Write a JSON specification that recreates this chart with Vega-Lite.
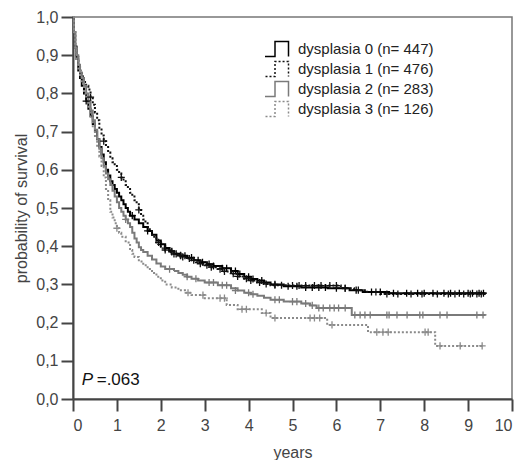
{
  "$schema": "https://vega.github.io/schema/vega-lite/v6.json",
  "width": 439,
  "height": 382,
  "autosize": "none",
  "padding": {"left": 73, "top": 17, "right": 18, "bottom": 61},
  "config": {
    "font": "Liberation Sans",
    "view": {"stroke": "#777777", "strokeWidth": 1.5},
    "axis": {
      "domainColor": "#444444", "domainWidth": 2, "tickColor": "#444444", "tickWidth": 2,
      "tickSize": 12, "labelColor": "#444444", "labelFontSize": 16, "titleFontSize": 16,
      "titleFontWeight": "normal", "titleColor": "#444444", "grid": false
    }
  },
  "datasets": {
    "curves": [
      {"g":"dysplasia 0 (n= 447)","t":0,"s":1.0},{"g":"dysplasia 0 (n= 447)","t":0.02,"s":0.96},{"g":"dysplasia 0 (n= 447)","t":0.05,"s":0.92},{"g":"dysplasia 0 (n= 447)","t":0.08,"s":0.89},{"g":"dysplasia 0 (n= 447)","t":0.12,"s":0.86},{"g":"dysplasia 0 (n= 447)","t":0.16,"s":0.84},{"g":"dysplasia 0 (n= 447)","t":0.2,"s":0.82},{"g":"dysplasia 0 (n= 447)","t":0.25,"s":0.8},{"g":"dysplasia 0 (n= 447)","t":0.3,"s":0.78},{"g":"dysplasia 0 (n= 447)","t":0.35,"s":0.76},{"g":"dysplasia 0 (n= 447)","t":0.4,"s":0.74},{"g":"dysplasia 0 (n= 447)","t":0.45,"s":0.72},{"g":"dysplasia 0 (n= 447)","t":0.5,"s":0.7},{"g":"dysplasia 0 (n= 447)","t":0.55,"s":0.68},{"g":"dysplasia 0 (n= 447)","t":0.6,"s":0.66},{"g":"dysplasia 0 (n= 447)","t":0.65,"s":0.64},{"g":"dysplasia 0 (n= 447)","t":0.7,"s":0.62},{"g":"dysplasia 0 (n= 447)","t":0.75,"s":0.6},{"g":"dysplasia 0 (n= 447)","t":0.8,"s":0.585},{"g":"dysplasia 0 (n= 447)","t":0.85,"s":0.57},{"g":"dysplasia 0 (n= 447)","t":0.9,"s":0.56},{"g":"dysplasia 0 (n= 447)","t":0.95,"s":0.55},{"g":"dysplasia 0 (n= 447)","t":1.0,"s":0.54},{"g":"dysplasia 0 (n= 447)","t":1.05,"s":0.53},{"g":"dysplasia 0 (n= 447)","t":1.1,"s":0.52},{"g":"dysplasia 0 (n= 447)","t":1.15,"s":0.51},{"g":"dysplasia 0 (n= 447)","t":1.2,"s":0.5},{"g":"dysplasia 0 (n= 447)","t":1.25,"s":0.49},{"g":"dysplasia 0 (n= 447)","t":1.3,"s":0.48},{"g":"dysplasia 0 (n= 447)","t":1.4,"s":0.47},{"g":"dysplasia 0 (n= 447)","t":1.5,"s":0.46},{"g":"dysplasia 0 (n= 447)","t":1.6,"s":0.45},{"g":"dysplasia 0 (n= 447)","t":1.7,"s":0.44},{"g":"dysplasia 0 (n= 447)","t":1.8,"s":0.43},{"g":"dysplasia 0 (n= 447)","t":1.9,"s":0.415},{"g":"dysplasia 0 (n= 447)","t":2.0,"s":0.405},{"g":"dysplasia 0 (n= 447)","t":2.1,"s":0.395},{"g":"dysplasia 0 (n= 447)","t":2.2,"s":0.387},{"g":"dysplasia 0 (n= 447)","t":2.3,"s":0.38},{"g":"dysplasia 0 (n= 447)","t":2.45,"s":0.375},{"g":"dysplasia 0 (n= 447)","t":2.6,"s":0.37},{"g":"dysplasia 0 (n= 447)","t":2.75,"s":0.363},{"g":"dysplasia 0 (n= 447)","t":2.9,"s":0.358},{"g":"dysplasia 0 (n= 447)","t":3.05,"s":0.353},{"g":"dysplasia 0 (n= 447)","t":3.2,"s":0.348},{"g":"dysplasia 0 (n= 447)","t":3.4,"s":0.342},{"g":"dysplasia 0 (n= 447)","t":3.6,"s":0.335},{"g":"dysplasia 0 (n= 447)","t":3.75,"s":0.327},{"g":"dysplasia 0 (n= 447)","t":3.9,"s":0.32},{"g":"dysplasia 0 (n= 447)","t":4.05,"s":0.314},{"g":"dysplasia 0 (n= 447)","t":4.2,"s":0.31},{"g":"dysplasia 0 (n= 447)","t":4.35,"s":0.305},{"g":"dysplasia 0 (n= 447)","t":4.5,"s":0.3},{"g":"dysplasia 0 (n= 447)","t":4.8,"s":0.295},{"g":"dysplasia 0 (n= 447)","t":5.2,"s":0.292},{"g":"dysplasia 0 (n= 447)","t":5.8,"s":0.29},{"g":"dysplasia 0 (n= 447)","t":6.3,"s":0.285},{"g":"dysplasia 0 (n= 447)","t":6.6,"s":0.28},{"g":"dysplasia 0 (n= 447)","t":7.2,"s":0.277},{"g":"dysplasia 0 (n= 447)","t":9.4,"s":0.277},
      {"g":"dysplasia 1 (n= 476)","t":0,"s":1.0},{"g":"dysplasia 1 (n= 476)","t":0.02,"s":0.96},{"g":"dysplasia 1 (n= 476)","t":0.05,"s":0.93},{"g":"dysplasia 1 (n= 476)","t":0.08,"s":0.9},{"g":"dysplasia 1 (n= 476)","t":0.12,"s":0.875},{"g":"dysplasia 1 (n= 476)","t":0.16,"s":0.86},{"g":"dysplasia 1 (n= 476)","t":0.2,"s":0.845},{"g":"dysplasia 1 (n= 476)","t":0.25,"s":0.83},{"g":"dysplasia 1 (n= 476)","t":0.3,"s":0.82},{"g":"dysplasia 1 (n= 476)","t":0.35,"s":0.81},{"g":"dysplasia 1 (n= 476)","t":0.4,"s":0.79},{"g":"dysplasia 1 (n= 476)","t":0.45,"s":0.77},{"g":"dysplasia 1 (n= 476)","t":0.5,"s":0.75},{"g":"dysplasia 1 (n= 476)","t":0.55,"s":0.73},{"g":"dysplasia 1 (n= 476)","t":0.6,"s":0.71},{"g":"dysplasia 1 (n= 476)","t":0.65,"s":0.69},{"g":"dysplasia 1 (n= 476)","t":0.7,"s":0.675},{"g":"dysplasia 1 (n= 476)","t":0.75,"s":0.66},{"g":"dysplasia 1 (n= 476)","t":0.8,"s":0.645},{"g":"dysplasia 1 (n= 476)","t":0.85,"s":0.63},{"g":"dysplasia 1 (n= 476)","t":0.9,"s":0.62},{"g":"dysplasia 1 (n= 476)","t":0.95,"s":0.61},{"g":"dysplasia 1 (n= 476)","t":1.0,"s":0.6},{"g":"dysplasia 1 (n= 476)","t":1.05,"s":0.59},{"g":"dysplasia 1 (n= 476)","t":1.1,"s":0.58},{"g":"dysplasia 1 (n= 476)","t":1.15,"s":0.57},{"g":"dysplasia 1 (n= 476)","t":1.2,"s":0.56},{"g":"dysplasia 1 (n= 476)","t":1.25,"s":0.55},{"g":"dysplasia 1 (n= 476)","t":1.3,"s":0.54},{"g":"dysplasia 1 (n= 476)","t":1.35,"s":0.53},{"g":"dysplasia 1 (n= 476)","t":1.4,"s":0.52},{"g":"dysplasia 1 (n= 476)","t":1.45,"s":0.51},{"g":"dysplasia 1 (n= 476)","t":1.5,"s":0.495},{"g":"dysplasia 1 (n= 476)","t":1.55,"s":0.48},{"g":"dysplasia 1 (n= 476)","t":1.6,"s":0.47},{"g":"dysplasia 1 (n= 476)","t":1.65,"s":0.46},{"g":"dysplasia 1 (n= 476)","t":1.7,"s":0.45},{"g":"dysplasia 1 (n= 476)","t":1.75,"s":0.44},{"g":"dysplasia 1 (n= 476)","t":1.8,"s":0.43},{"g":"dysplasia 1 (n= 476)","t":1.85,"s":0.42},{"g":"dysplasia 1 (n= 476)","t":1.9,"s":0.41},{"g":"dysplasia 1 (n= 476)","t":2.0,"s":0.4},{"g":"dysplasia 1 (n= 476)","t":2.1,"s":0.39},{"g":"dysplasia 1 (n= 476)","t":2.2,"s":0.385},{"g":"dysplasia 1 (n= 476)","t":2.3,"s":0.38},{"g":"dysplasia 1 (n= 476)","t":2.4,"s":0.376},{"g":"dysplasia 1 (n= 476)","t":2.5,"s":0.372},{"g":"dysplasia 1 (n= 476)","t":2.6,"s":0.368},{"g":"dysplasia 1 (n= 476)","t":2.7,"s":0.363},{"g":"dysplasia 1 (n= 476)","t":2.8,"s":0.358},{"g":"dysplasia 1 (n= 476)","t":2.9,"s":0.354},{"g":"dysplasia 1 (n= 476)","t":3.0,"s":0.35},{"g":"dysplasia 1 (n= 476)","t":3.15,"s":0.345},{"g":"dysplasia 1 (n= 476)","t":3.3,"s":0.34},{"g":"dysplasia 1 (n= 476)","t":3.45,"s":0.334},{"g":"dysplasia 1 (n= 476)","t":3.6,"s":0.328},{"g":"dysplasia 1 (n= 476)","t":3.75,"s":0.321},{"g":"dysplasia 1 (n= 476)","t":3.9,"s":0.315},{"g":"dysplasia 1 (n= 476)","t":4.05,"s":0.31},{"g":"dysplasia 1 (n= 476)","t":4.2,"s":0.305},{"g":"dysplasia 1 (n= 476)","t":4.35,"s":0.301},{"g":"dysplasia 1 (n= 476)","t":4.5,"s":0.298},{"g":"dysplasia 1 (n= 476)","t":4.9,"s":0.297},{"g":"dysplasia 1 (n= 476)","t":6.1,"s":0.29},{"g":"dysplasia 1 (n= 476)","t":6.4,"s":0.285},{"g":"dysplasia 1 (n= 476)","t":6.7,"s":0.28},{"g":"dysplasia 1 (n= 476)","t":7.0,"s":0.275},{"g":"dysplasia 1 (n= 476)","t":9.4,"s":0.275},
      {"g":"dysplasia 2 (n= 283)","t":0,"s":1.0},{"g":"dysplasia 2 (n= 283)","t":0.02,"s":0.96},{"g":"dysplasia 2 (n= 283)","t":0.05,"s":0.92},{"g":"dysplasia 2 (n= 283)","t":0.08,"s":0.9},{"g":"dysplasia 2 (n= 283)","t":0.12,"s":0.875},{"g":"dysplasia 2 (n= 283)","t":0.16,"s":0.855},{"g":"dysplasia 2 (n= 283)","t":0.2,"s":0.84},{"g":"dysplasia 2 (n= 283)","t":0.25,"s":0.82},{"g":"dysplasia 2 (n= 283)","t":0.3,"s":0.8},{"g":"dysplasia 2 (n= 283)","t":0.35,"s":0.78},{"g":"dysplasia 2 (n= 283)","t":0.4,"s":0.755},{"g":"dysplasia 2 (n= 283)","t":0.45,"s":0.73},{"g":"dysplasia 2 (n= 283)","t":0.5,"s":0.705},{"g":"dysplasia 2 (n= 283)","t":0.55,"s":0.68},{"g":"dysplasia 2 (n= 283)","t":0.6,"s":0.655},{"g":"dysplasia 2 (n= 283)","t":0.65,"s":0.63},{"g":"dysplasia 2 (n= 283)","t":0.7,"s":0.61},{"g":"dysplasia 2 (n= 283)","t":0.75,"s":0.59},{"g":"dysplasia 2 (n= 283)","t":0.8,"s":0.575},{"g":"dysplasia 2 (n= 283)","t":0.85,"s":0.56},{"g":"dysplasia 2 (n= 283)","t":0.9,"s":0.545},{"g":"dysplasia 2 (n= 283)","t":0.95,"s":0.53},{"g":"dysplasia 2 (n= 283)","t":1.0,"s":0.515},{"g":"dysplasia 2 (n= 283)","t":1.05,"s":0.5},{"g":"dysplasia 2 (n= 283)","t":1.1,"s":0.49},{"g":"dysplasia 2 (n= 283)","t":1.15,"s":0.48},{"g":"dysplasia 2 (n= 283)","t":1.2,"s":0.47},{"g":"dysplasia 2 (n= 283)","t":1.25,"s":0.46},{"g":"dysplasia 2 (n= 283)","t":1.3,"s":0.45},{"g":"dysplasia 2 (n= 283)","t":1.35,"s":0.435},{"g":"dysplasia 2 (n= 283)","t":1.4,"s":0.42},{"g":"dysplasia 2 (n= 283)","t":1.45,"s":0.41},{"g":"dysplasia 2 (n= 283)","t":1.5,"s":0.397},{"g":"dysplasia 2 (n= 283)","t":1.55,"s":0.39},{"g":"dysplasia 2 (n= 283)","t":1.6,"s":0.385},{"g":"dysplasia 2 (n= 283)","t":1.7,"s":0.375},{"g":"dysplasia 2 (n= 283)","t":1.8,"s":0.365},{"g":"dysplasia 2 (n= 283)","t":1.9,"s":0.355},{"g":"dysplasia 2 (n= 283)","t":2.0,"s":0.347},{"g":"dysplasia 2 (n= 283)","t":2.1,"s":0.34},{"g":"dysplasia 2 (n= 283)","t":2.3,"s":0.335},{"g":"dysplasia 2 (n= 283)","t":2.4,"s":0.33},{"g":"dysplasia 2 (n= 283)","t":2.5,"s":0.325},{"g":"dysplasia 2 (n= 283)","t":2.6,"s":0.32},{"g":"dysplasia 2 (n= 283)","t":2.7,"s":0.315},{"g":"dysplasia 2 (n= 283)","t":2.85,"s":0.31},{"g":"dysplasia 2 (n= 283)","t":3.0,"s":0.305},{"g":"dysplasia 2 (n= 283)","t":3.3,"s":0.298},{"g":"dysplasia 2 (n= 283)","t":3.6,"s":0.29},{"g":"dysplasia 2 (n= 283)","t":3.75,"s":0.284},{"g":"dysplasia 2 (n= 283)","t":3.9,"s":0.278},{"g":"dysplasia 2 (n= 283)","t":4.05,"s":0.274},{"g":"dysplasia 2 (n= 283)","t":4.2,"s":0.27},{"g":"dysplasia 2 (n= 283)","t":4.35,"s":0.265},{"g":"dysplasia 2 (n= 283)","t":4.5,"s":0.26},{"g":"dysplasia 2 (n= 283)","t":4.8,"s":0.255},{"g":"dysplasia 2 (n= 283)","t":5.2,"s":0.25},{"g":"dysplasia 2 (n= 283)","t":5.4,"s":0.245},{"g":"dysplasia 2 (n= 283)","t":5.55,"s":0.238},{"g":"dysplasia 2 (n= 283)","t":6.35,"s":0.22},{"g":"dysplasia 2 (n= 283)","t":9.4,"s":0.22},
      {"g":"dysplasia 3 (n= 126)","t":0,"s":1.0},{"g":"dysplasia 3 (n= 126)","t":0.02,"s":0.96},{"g":"dysplasia 3 (n= 126)","t":0.05,"s":0.92},{"g":"dysplasia 3 (n= 126)","t":0.08,"s":0.89},{"g":"dysplasia 3 (n= 126)","t":0.12,"s":0.865},{"g":"dysplasia 3 (n= 126)","t":0.16,"s":0.845},{"g":"dysplasia 3 (n= 126)","t":0.2,"s":0.825},{"g":"dysplasia 3 (n= 126)","t":0.25,"s":0.8},{"g":"dysplasia 3 (n= 126)","t":0.3,"s":0.78},{"g":"dysplasia 3 (n= 126)","t":0.35,"s":0.76},{"g":"dysplasia 3 (n= 126)","t":0.4,"s":0.735},{"g":"dysplasia 3 (n= 126)","t":0.45,"s":0.71},{"g":"dysplasia 3 (n= 126)","t":0.5,"s":0.685},{"g":"dysplasia 3 (n= 126)","t":0.55,"s":0.66},{"g":"dysplasia 3 (n= 126)","t":0.6,"s":0.635},{"g":"dysplasia 3 (n= 126)","t":0.65,"s":0.61},{"g":"dysplasia 3 (n= 126)","t":0.7,"s":0.58},{"g":"dysplasia 3 (n= 126)","t":0.75,"s":0.55},{"g":"dysplasia 3 (n= 126)","t":0.8,"s":0.52},{"g":"dysplasia 3 (n= 126)","t":0.85,"s":0.49},{"g":"dysplasia 3 (n= 126)","t":0.9,"s":0.475},{"g":"dysplasia 3 (n= 126)","t":0.95,"s":0.46},{"g":"dysplasia 3 (n= 126)","t":1.0,"s":0.447},{"g":"dysplasia 3 (n= 126)","t":1.05,"s":0.435},{"g":"dysplasia 3 (n= 126)","t":1.1,"s":0.425},{"g":"dysplasia 3 (n= 126)","t":1.2,"s":0.41},{"g":"dysplasia 3 (n= 126)","t":1.3,"s":0.39},{"g":"dysplasia 3 (n= 126)","t":1.35,"s":0.38},{"g":"dysplasia 3 (n= 126)","t":1.4,"s":0.372},{"g":"dysplasia 3 (n= 126)","t":1.5,"s":0.36},{"g":"dysplasia 3 (n= 126)","t":1.6,"s":0.35},{"g":"dysplasia 3 (n= 126)","t":1.7,"s":0.34},{"g":"dysplasia 3 (n= 126)","t":1.8,"s":0.33},{"g":"dysplasia 3 (n= 126)","t":1.9,"s":0.32},{"g":"dysplasia 3 (n= 126)","t":2.0,"s":0.31},{"g":"dysplasia 3 (n= 126)","t":2.1,"s":0.3},{"g":"dysplasia 3 (n= 126)","t":2.25,"s":0.292},{"g":"dysplasia 3 (n= 126)","t":2.4,"s":0.285},{"g":"dysplasia 3 (n= 126)","t":2.55,"s":0.278},{"g":"dysplasia 3 (n= 126)","t":2.7,"s":0.272},{"g":"dysplasia 3 (n= 126)","t":3.0,"s":0.264},{"g":"dysplasia 3 (n= 126)","t":3.5,"s":0.246},{"g":"dysplasia 3 (n= 126)","t":3.75,"s":0.235},{"g":"dysplasia 3 (n= 126)","t":4.3,"s":0.225},{"g":"dysplasia 3 (n= 126)","t":4.5,"s":0.212},{"g":"dysplasia 3 (n= 126)","t":5.79,"s":0.194},{"g":"dysplasia 3 (n= 126)","t":6.72,"s":0.175},{"g":"dysplasia 3 (n= 126)","t":8.25,"s":0.139},{"g":"dysplasia 3 (n= 126)","t":9.35,"s":0.139}
    ],
    "cens": [
      {"g":"dysplasia 0 (n= 447)","t":0.3,"s":0.78},{"g":"dysplasia 0 (n= 447)","t":1.35,"s":0.48},{"g":"dysplasia 0 (n= 447)","t":1.7,"s":0.44},{"g":"dysplasia 0 (n= 447)","t":2.0,"s":0.405},{"g":"dysplasia 0 (n= 447)","t":2.1,"s":0.395},{"g":"dysplasia 0 (n= 447)","t":2.25,"s":0.387},{"g":"dysplasia 0 (n= 447)","t":2.35,"s":0.38},{"g":"dysplasia 0 (n= 447)","t":2.45,"s":0.375},{"g":"dysplasia 0 (n= 447)","t":2.55,"s":0.375},{"g":"dysplasia 0 (n= 447)","t":2.7,"s":0.37},{"g":"dysplasia 0 (n= 447)","t":2.85,"s":0.363},{"g":"dysplasia 0 (n= 447)","t":2.95,"s":0.358},{"g":"dysplasia 0 (n= 447)","t":3.1,"s":0.353},{"g":"dysplasia 0 (n= 447)","t":3.2,"s":0.348},{"g":"dysplasia 0 (n= 447)","t":3.4,"s":0.342},{"g":"dysplasia 0 (n= 447)","t":3.5,"s":0.342},{"g":"dysplasia 0 (n= 447)","t":3.7,"s":0.335},{"g":"dysplasia 0 (n= 447)","t":3.8,"s":0.327},{"g":"dysplasia 0 (n= 447)","t":4.0,"s":0.32},{"g":"dysplasia 0 (n= 447)","t":4.1,"s":0.314},{"g":"dysplasia 0 (n= 447)","t":4.3,"s":0.31},{"g":"dysplasia 0 (n= 447)","t":4.6,"s":0.3},{"g":"dysplasia 0 (n= 447)","t":4.9,"s":0.295},{"g":"dysplasia 0 (n= 447)","t":5.1,"s":0.295},{"g":"dysplasia 0 (n= 447)","t":5.3,"s":0.292},{"g":"dysplasia 0 (n= 447)","t":5.45,"s":0.292},{"g":"dysplasia 0 (n= 447)","t":5.6,"s":0.292},{"g":"dysplasia 0 (n= 447)","t":5.75,"s":0.292},{"g":"dysplasia 0 (n= 447)","t":6.0,"s":0.29},{"g":"dysplasia 0 (n= 447)","t":6.2,"s":0.29},{"g":"dysplasia 0 (n= 447)","t":6.45,"s":0.285},{"g":"dysplasia 0 (n= 447)","t":6.8,"s":0.28},{"g":"dysplasia 0 (n= 447)","t":7.0,"s":0.28},{"g":"dysplasia 0 (n= 447)","t":7.3,"s":0.277},{"g":"dysplasia 0 (n= 447)","t":7.6,"s":0.277},{"g":"dysplasia 0 (n= 447)","t":7.85,"s":0.277},{"g":"dysplasia 0 (n= 447)","t":8.0,"s":0.277},{"g":"dysplasia 0 (n= 447)","t":8.2,"s":0.277},{"g":"dysplasia 0 (n= 447)","t":8.45,"s":0.277},{"g":"dysplasia 0 (n= 447)","t":8.6,"s":0.277},{"g":"dysplasia 0 (n= 447)","t":8.8,"s":0.277},{"g":"dysplasia 0 (n= 447)","t":9.0,"s":0.277},{"g":"dysplasia 0 (n= 447)","t":9.1,"s":0.277},{"g":"dysplasia 0 (n= 447)","t":9.25,"s":0.277},{"g":"dysplasia 0 (n= 447)","t":9.35,"s":0.277},
      {"g":"dysplasia 1 (n= 476)","t":0.4,"s":0.79},{"g":"dysplasia 1 (n= 476)","t":0.7,"s":0.675},{"g":"dysplasia 1 (n= 476)","t":1.1,"s":0.58},{"g":"dysplasia 1 (n= 476)","t":1.5,"s":0.495},{"g":"dysplasia 1 (n= 476)","t":1.95,"s":0.41},{"g":"dysplasia 1 (n= 476)","t":2.1,"s":0.39},{"g":"dysplasia 1 (n= 476)","t":2.25,"s":0.385},{"g":"dysplasia 1 (n= 476)","t":2.3,"s":0.38},{"g":"dysplasia 1 (n= 476)","t":2.45,"s":0.376},{"g":"dysplasia 1 (n= 476)","t":2.5,"s":0.372},{"g":"dysplasia 1 (n= 476)","t":2.65,"s":0.368},{"g":"dysplasia 1 (n= 476)","t":2.75,"s":0.363},{"g":"dysplasia 1 (n= 476)","t":2.9,"s":0.354},{"g":"dysplasia 1 (n= 476)","t":3.05,"s":0.35},{"g":"dysplasia 1 (n= 476)","t":3.15,"s":0.345},{"g":"dysplasia 1 (n= 476)","t":3.35,"s":0.34},{"g":"dysplasia 1 (n= 476)","t":3.45,"s":0.334},{"g":"dysplasia 1 (n= 476)","t":3.65,"s":0.328},{"g":"dysplasia 1 (n= 476)","t":3.75,"s":0.321},{"g":"dysplasia 1 (n= 476)","t":3.95,"s":0.315},{"g":"dysplasia 1 (n= 476)","t":4.05,"s":0.31},{"g":"dysplasia 1 (n= 476)","t":4.25,"s":0.305},{"g":"dysplasia 1 (n= 476)","t":4.4,"s":0.301},{"g":"dysplasia 1 (n= 476)","t":4.6,"s":0.298},{"g":"dysplasia 1 (n= 476)","t":4.75,"s":0.298},{"g":"dysplasia 1 (n= 476)","t":5.0,"s":0.297},{"g":"dysplasia 1 (n= 476)","t":5.15,"s":0.297},{"g":"dysplasia 1 (n= 476)","t":5.3,"s":0.297},{"g":"dysplasia 1 (n= 476)","t":5.5,"s":0.297},{"g":"dysplasia 1 (n= 476)","t":5.65,"s":0.297},{"g":"dysplasia 1 (n= 476)","t":5.85,"s":0.297},{"g":"dysplasia 1 (n= 476)","t":6.0,"s":0.297},{"g":"dysplasia 1 (n= 476)","t":6.2,"s":0.29},{"g":"dysplasia 1 (n= 476)","t":6.5,"s":0.285},{"g":"dysplasia 1 (n= 476)","t":6.9,"s":0.28},{"g":"dysplasia 1 (n= 476)","t":7.15,"s":0.275},{"g":"dysplasia 1 (n= 476)","t":7.4,"s":0.275},{"g":"dysplasia 1 (n= 476)","t":7.7,"s":0.275},{"g":"dysplasia 1 (n= 476)","t":7.95,"s":0.275},{"g":"dysplasia 1 (n= 476)","t":8.3,"s":0.275},{"g":"dysplasia 1 (n= 476)","t":8.55,"s":0.275},{"g":"dysplasia 1 (n= 476)","t":8.7,"s":0.275},{"g":"dysplasia 1 (n= 476)","t":8.9,"s":0.275},{"g":"dysplasia 1 (n= 476)","t":9.05,"s":0.275},{"g":"dysplasia 1 (n= 476)","t":9.2,"s":0.275},{"g":"dysplasia 1 (n= 476)","t":9.3,"s":0.275},
      {"g":"dysplasia 2 (n= 283)","t":1.2,"s":0.47},{"g":"dysplasia 2 (n= 283)","t":2.2,"s":0.34},{"g":"dysplasia 2 (n= 283)","t":2.6,"s":0.32},{"g":"dysplasia 2 (n= 283)","t":2.8,"s":0.315},{"g":"dysplasia 2 (n= 283)","t":3.1,"s":0.305},{"g":"dysplasia 2 (n= 283)","t":3.2,"s":0.305},{"g":"dysplasia 2 (n= 283)","t":3.4,"s":0.298},{"g":"dysplasia 2 (n= 283)","t":3.5,"s":0.298},{"g":"dysplasia 2 (n= 283)","t":3.7,"s":0.284},{"g":"dysplasia 2 (n= 283)","t":4.0,"s":0.278},{"g":"dysplasia 2 (n= 283)","t":4.1,"s":0.274},{"g":"dysplasia 2 (n= 283)","t":4.6,"s":0.26},{"g":"dysplasia 2 (n= 283)","t":4.7,"s":0.26},{"g":"dysplasia 2 (n= 283)","t":5.0,"s":0.255},{"g":"dysplasia 2 (n= 283)","t":5.1,"s":0.255},{"g":"dysplasia 2 (n= 283)","t":5.3,"s":0.25},{"g":"dysplasia 2 (n= 283)","t":5.45,"s":0.245},{"g":"dysplasia 2 (n= 283)","t":5.6,"s":0.238},{"g":"dysplasia 2 (n= 283)","t":5.7,"s":0.238},{"g":"dysplasia 2 (n= 283)","t":5.85,"s":0.238},{"g":"dysplasia 2 (n= 283)","t":5.95,"s":0.238},{"g":"dysplasia 2 (n= 283)","t":6.05,"s":0.238},{"g":"dysplasia 2 (n= 283)","t":6.2,"s":0.238},{"g":"dysplasia 2 (n= 283)","t":6.42,"s":0.22},{"g":"dysplasia 2 (n= 283)","t":6.54,"s":0.22},{"g":"dysplasia 2 (n= 283)","t":6.65,"s":0.22},{"g":"dysplasia 2 (n= 283)","t":6.77,"s":0.22},{"g":"dysplasia 2 (n= 283)","t":7.15,"s":0.22},{"g":"dysplasia 2 (n= 283)","t":7.2,"s":0.22},{"g":"dysplasia 2 (n= 283)","t":7.38,"s":0.22},{"g":"dysplasia 2 (n= 283)","t":7.61,"s":0.22},{"g":"dysplasia 2 (n= 283)","t":7.9,"s":0.22},{"g":"dysplasia 2 (n= 283)","t":7.97,"s":0.22},{"g":"dysplasia 2 (n= 283)","t":8.36,"s":0.22},{"g":"dysplasia 2 (n= 283)","t":8.52,"s":0.22},{"g":"dysplasia 2 (n= 283)","t":9.2,"s":0.22},{"g":"dysplasia 2 (n= 283)","t":9.34,"s":0.22},
      {"g":"dysplasia 3 (n= 126)","t":1.0,"s":0.447},{"g":"dysplasia 3 (n= 126)","t":2.62,"s":0.278},{"g":"dysplasia 3 (n= 126)","t":2.96,"s":0.272},{"g":"dysplasia 3 (n= 126)","t":3.35,"s":0.264},{"g":"dysplasia 3 (n= 126)","t":3.45,"s":0.264},{"g":"dysplasia 3 (n= 126)","t":3.85,"s":0.235},{"g":"dysplasia 3 (n= 126)","t":3.95,"s":0.235},{"g":"dysplasia 3 (n= 126)","t":4.4,"s":0.225},{"g":"dysplasia 3 (n= 126)","t":4.6,"s":0.212},{"g":"dysplasia 3 (n= 126)","t":5.4,"s":0.212},{"g":"dysplasia 3 (n= 126)","t":5.5,"s":0.212},{"g":"dysplasia 3 (n= 126)","t":5.62,"s":0.212},{"g":"dysplasia 3 (n= 126)","t":5.9,"s":0.194},{"g":"dysplasia 3 (n= 126)","t":6.92,"s":0.175},{"g":"dysplasia 3 (n= 126)","t":7.06,"s":0.175},{"g":"dysplasia 3 (n= 126)","t":7.18,"s":0.175},{"g":"dysplasia 3 (n= 126)","t":8.02,"s":0.175},{"g":"dysplasia 3 (n= 126)","t":8.09,"s":0.175},{"g":"dysplasia 3 (n= 126)","t":8.36,"s":0.139},{"g":"dysplasia 3 (n= 126)","t":8.82,"s":0.139},{"g":"dysplasia 3 (n= 126)","t":9.32,"s":0.139}
    ]
  },
  "encoding": {
    "x": {"field":"t","type":"quantitative","scale":{"domain":[0,10],"nice":false},
      "axis":{"title":"years","values":[0,1,2,3,4,5,6,7,8,9,10],"labelPadding":6,"titlePadding":11,"format":"d"}},
    "y": {"field":"s","type":"quantitative","scale":{"domain":[0,1],"nice":false},
      "axis":{"title":"probability of survival","values":[0,0.1,0.2,0.3,0.4,0.5,0.6,0.7,0.8,0.9,1.0],"labelPadding":3,"titlePadding":6,
        "labelExpr":"replace(format(datum.value, '.1f'), '.', ',')"}}
  },
  "layer": [
    {
      "data": {"name":"curves"},
      "mark": {"type":"line","interpolate":"step-after","strokeWidth":2},
      "encoding": {
        "color": {"field":"g","type":"nominal",
          "scale":{"domain":["dysplasia 0 (n= 447)","dysplasia 1 (n= 476)","dysplasia 2 (n= 283)","dysplasia 3 (n= 126)"],
                   "range":["#000000","#111111","#7a7a7a","#8a8a8a"]},
          "legend":{"title":null,"orient":"none","legendX":192,"legendY":22,"symbolType":"M-1.5,0.83L0,0.83L0,-0.83L1.5,-0.83L1.5,0.83",
            "symbolSize":324,"symbolStrokeWidth":1.5,"symbolFillColor":"transparent","labelFontSize":15,"labelColor":"#222222",
            "labelOffset":13,"rowPadding":0,"clipHeight":20,"symbolLimit":0}},
        "strokeDash": {"field":"g","type":"nominal",
          "scale":{"domain":["dysplasia 0 (n= 447)","dysplasia 1 (n= 476)","dysplasia 2 (n= 283)","dysplasia 3 (n= 126)"],
                   "range":[[1,0],[2,2],[1,0],[2,2]]},
          "legend":{"title":null}},
        "order": {"field":"t","type":"quantitative"}
      }
    },
    {
      "data": {"name":"cens"},
      "mark": {"type":"point","shape":"M-1,0L1,0M0,-1L0,1","size":50,"strokeWidth":1.3,"filled":false,"opacity":1},
      "encoding": {
        "stroke": {"field":"g","type":"nominal",
          "scale":{"domain":["dysplasia 0 (n= 447)","dysplasia 1 (n= 476)","dysplasia 2 (n= 283)","dysplasia 3 (n= 126)"],
                   "range":["#000000","#111111","#7a7a7a","#8a8a8a"]},
          "legend":null}
      }
    },
    {
      "data": {"values":[{"t":0.2,"s":0.037,"label":"P"}]},
      "mark": {"type":"text","align":"left","baseline":"alphabetic","fontSize":17,"fontStyle":"italic","color":"#111111"},
      "encoding": {"text": {"field":"label"}}
    },
    {
      "data": {"values":[{"t":0.54,"s":0.037,"label":"=.063"}]},
      "mark": {"type":"text","align":"left","baseline":"alphabetic","fontSize":17,"color":"#111111"},
      "encoding": {"text": {"field":"label"}}
    }
  ]
}
